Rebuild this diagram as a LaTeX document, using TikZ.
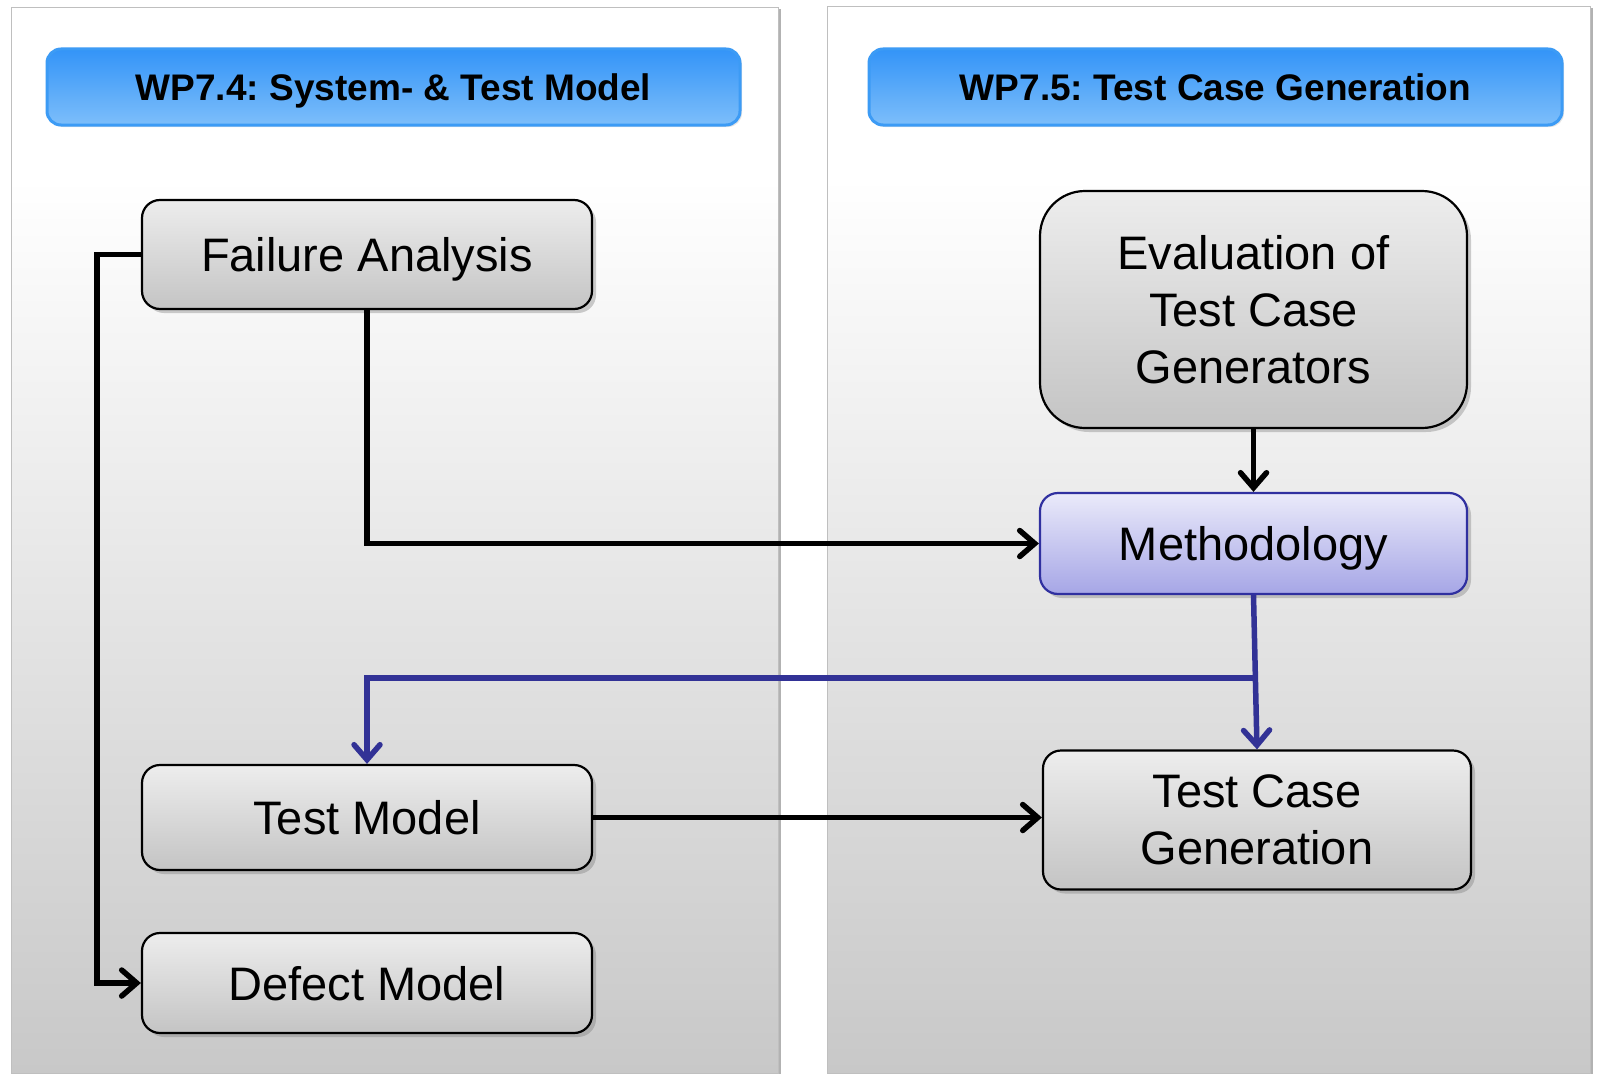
\documentclass[tikz,border=0pt]{standalone}
\usepackage{fontspec}
\setmainfont{Liberation Sans}
\usetikzlibrary{arrows.meta,shadows}
\definecolor{pbot}{RGB}{200,200,200}
\definecolor{hdtop}{RGB}{51,148,248}
\definecolor{hdbot}{RGB}{125,190,250}
\definecolor{hdline}{RGB}{60,155,245}
\definecolor{btop}{RGB}{237,237,237}
\definecolor{bbot}{RGB}{196,196,196}
\definecolor{mtop}{RGB}{234,234,250}
\definecolor{mbot}{RGB}{166,166,230}
\definecolor{mline}{RGB}{48,48,160}
\definecolor{navy}{RGB}{50,50,150}
\pgfdeclareverticalshading{panelshade}{100bp}{color(0bp)=(pbot); color(25bp)=(pbot); color(67bp)=(white); color(100bp)=(white)}
\frenchspacing
\tikzset{
  panel/.style={draw=black!25, line width=1pt, shading=panelshade,
    drop shadow={shadow xshift=3pt, shadow yshift=-1pt, opacity=0.5, fill=black!60}},
  hdr/.style={draw=hdline, line width=3pt, rounded corners=14pt, top color=hdtop, bottom color=hdbot,
    font=\fontsize{37}{44}\selectfont\bfseries, minimum width=693pt, minimum height=76pt, inner sep=0pt,
    text depth=0pt,
    drop shadow={shadow xshift=2pt, shadow yshift=-2pt, opacity=0.2, fill=black!50}},
  box/.style={draw=black, line width=2.2pt, rounded corners=18pt, top color=btop, bottom color=bbot,
    font=\fontsize{47}{57}\selectfont, align=center, inner sep=0pt,
    drop shadow={shadow xshift=4pt, shadow yshift=-4pt, opacity=0.35, fill=black!55}},
  onel/.style={text depth=0pt},
  mbox/.style={box, draw=mline, top color=mtop, bottom color=mbot},
  con/.style={line width=5.5pt, draw=black, -{Straight Barb[length=15pt,width=26pt,line cap=round]}},
  bcon/.style={con, draw=navy},
}
\begin{document}
\begin{tikzpicture}[x=1pt,y=-1pt]
\useasboundingbox[fill=white] (0,0) rectangle (1597,1073);
% panels
\path[panel] (11,8) rectangle (778,1073);
\path[panel] (827,7) rectangle (1590,1073);
% headers
\node[hdr] (h1) at (393.5,87) {WP7.4: System- \& Test Model};
\node[hdr] (h2) at (1215.5,87) {WP7.5: Test Case Generation};
% boxes
\node[box, onel, minimum width=450pt, minimum height=109pt] (fa) at (367,254.5) {Failure Analysis};
\node[box, rounded corners=45pt, minimum width=427pt, minimum height=237pt] (ev) at (1253.5,309.5) {Evaluation of\\Test Case\\Generators};
\node[mbox, onel, minimum width=427pt, minimum height=101pt] (me) at (1253.5,543.5) {Methodology};
\node[box, minimum width=428pt, minimum height=139pt] (tcg) at (1257,820) {Test Case\\Generation};
\node[box, onel, minimum width=450pt, minimum height=105pt] (tm) at (367,817.5) {Test Model};
\node[box, onel, minimum width=450pt, minimum height=100pt] (dm) at (367,983) {Defect Model};
% connectors
\coordinate (l) at (97,254.5);
\coordinate (j) at (1254,678);
\draw[con] (fa.west) -- (l) |- (dm.west);
\draw[con] (fa.south) |- (me.west);
\draw[con] (ev.south) -- (me.north);
\draw[con] (tm.east) -- (tm.east -| tcg.west);
\draw[bcon] (me.south) -- (tcg.north);
\draw[bcon] (j) -| (tm.north);
\end{tikzpicture}
\end{document}
